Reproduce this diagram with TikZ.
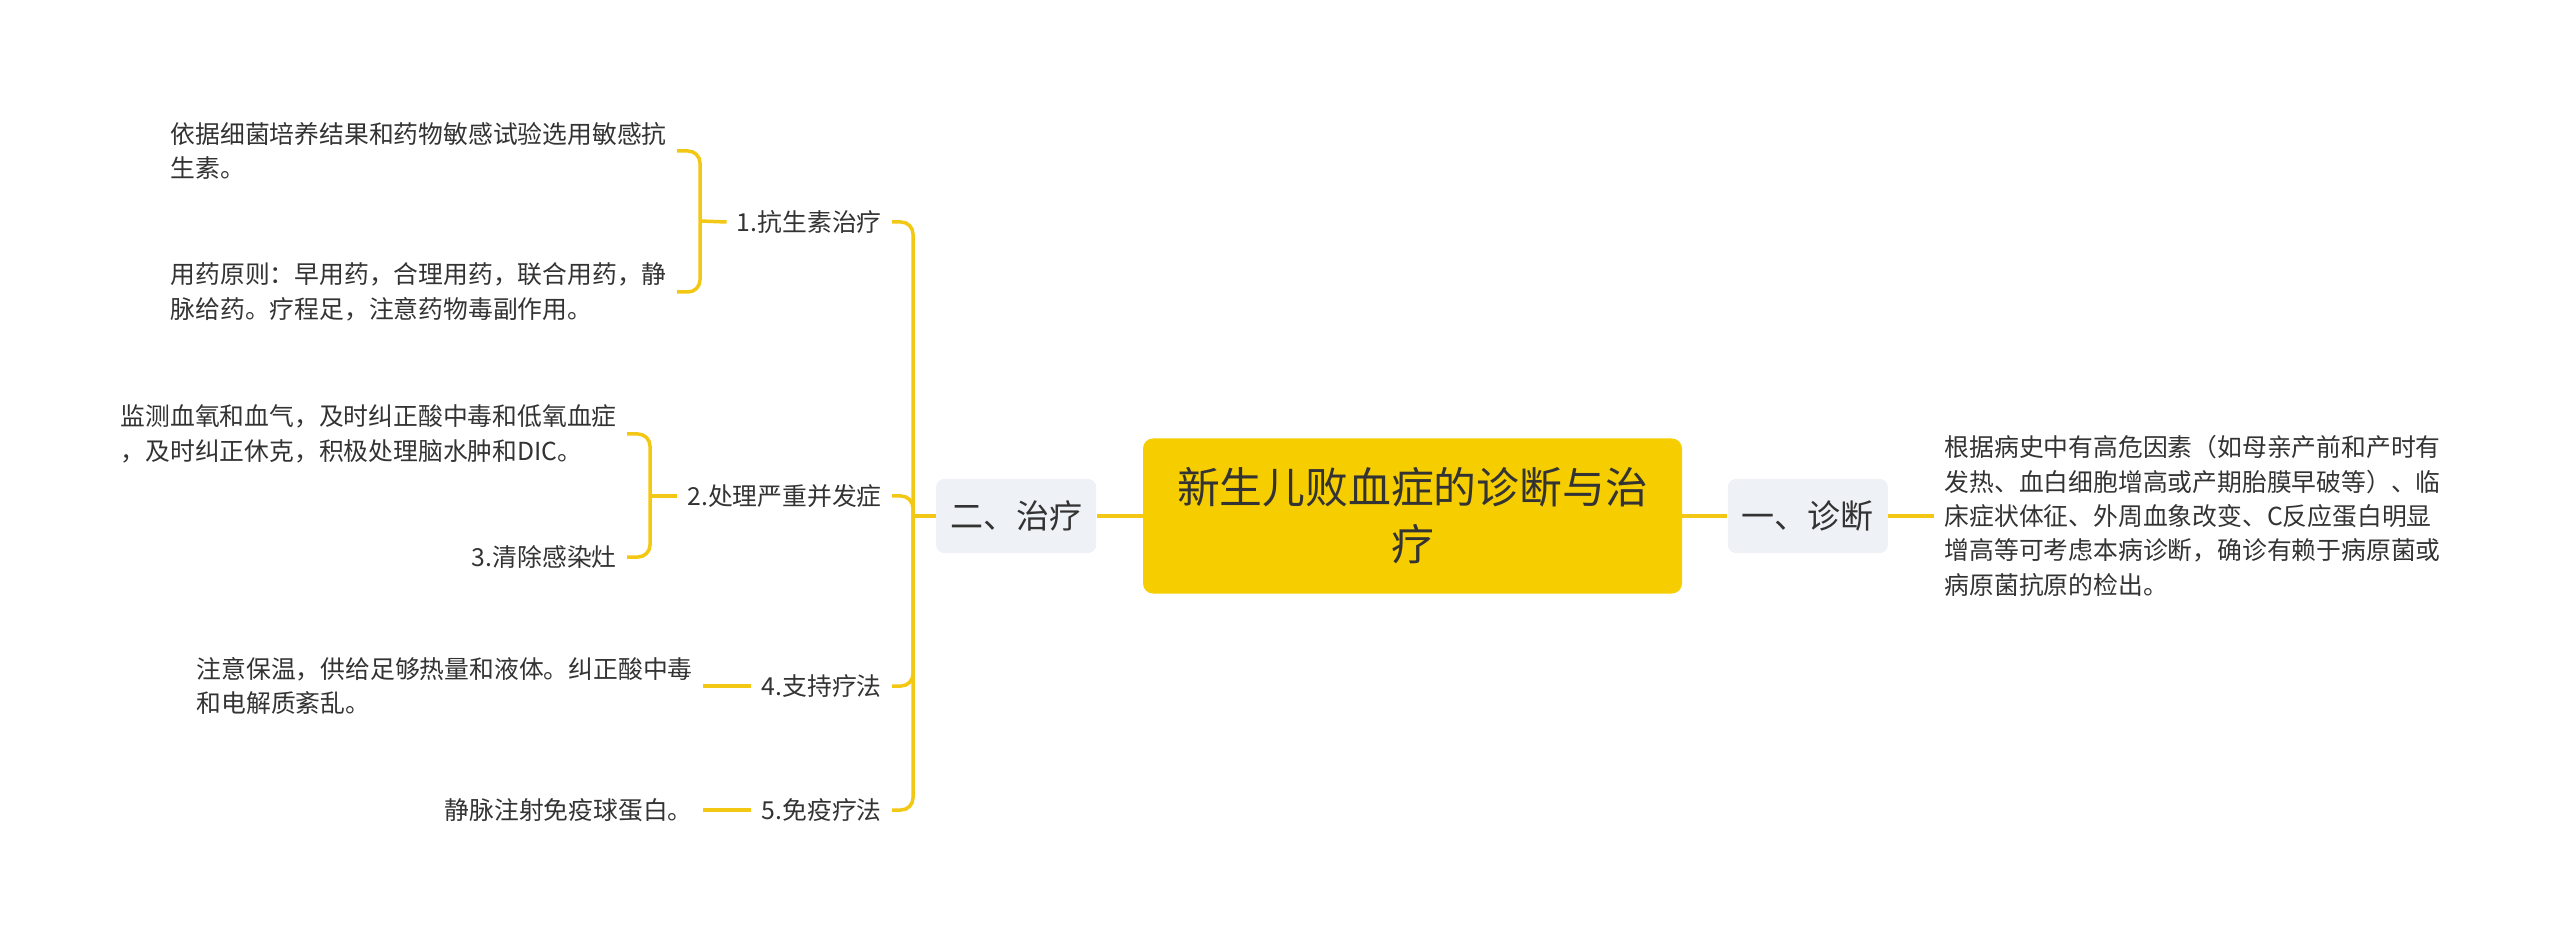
\documentclass[tikz,border=0pt]{standalone}
\usepackage{fontspec}
\setmainfont{Noto Sans CJK SC}
\usetikzlibrary{positioning}
\definecolor{mmgold}{HTML}{F6CE00}
\definecolor{mmline}{HTML}{F3C814}
\definecolor{mmgrey}{HTML}{EEF1F5}
\definecolor{mmtext}{HTML}{333333}

\begin{document}
\begin{tikzpicture}[x=0.5pt,y=-0.5pt,
  node distance=23pt,
  root/.style={fill=mmgold,rounded corners=5pt,minimum width=269.5pt,minimum height=77.5pt,
    align=center,text=mmtext,font=\fontsize{21.4}{28.5}\selectfont},
  branch/.style={fill=mmgrey,rounded corners=4pt,minimum width=80pt,minimum height=37pt,
    text=mmtext,font=\fontsize{16.5}{20}\selectfont},
  leaf/.style={inner xsep=5pt,inner ysep=0pt,align=left,text=mmtext,
    font=\fontsize{12.4}{17.2}\selectfont},
  link/.style={mmline,line width=1.75pt,rounded corners=6pt}]
\useasboundingbox (0,0) rectangle (2560,946);
\node[root] (root) at (1412.5,516) {新生儿败血症的诊断与治\\疗};
\node[branch,left=of root] (treat) {二、治疗};
\node[branch,right=22.5pt of root] (diag) {一、诊断};
\node[leaf,right=of diag] (dinfo) {根据病史中有高危因素（如母亲产前和产时有\\发热、血白细胞增高或产期胎膜早破等）、临\\床症状体征、外周血象改变、C反应蛋白明显\\增高等可考虑本病诊断，确诊有赖于病原菌或\\病原菌抗原的检出。};
\coordinate (tj) at (913,516);
\node[leaf,anchor=east] (abx) at (892,222) {1.抗生素治疗};
\node[leaf,anchor=east] (cmp) at (892,496) {2.处理严重并发症};
\node[leaf,anchor=east] (sup) at (892,686) {4.支持疗法};
\node[leaf,anchor=east] (imm) at (892,810) {5.免疫疗法};
\coordinate (abxj) at (700,221);
\node[leaf,anchor=east] (abx1) at (677,151) {依据细菌培养结果和药物敏感试验选用敏感抗\\生素。};
\node[leaf,anchor=east] (abx2) at (677,292) {用药原则：早用药，合理用药，联合用药，静\\脉给药。疗程足，注意药物毒副作用。};
\coordinate (cmpj) at (650,496);
\node[leaf,anchor=east] (cmp1) at (627,434) {监测血氧和血气，及时纠正酸中毒和低氧血症\\，及时纠正休克，积极处理脑水肿和DIC。};
\node[leaf,anchor=east] (cmp2) at (627,557) {3.清除感染灶};
\node[leaf,anchor=east] (sup1) at (703,686) {注意保温，供给足够热量和液体。纠正酸中毒\\和电解质紊乱。};
\node[leaf,anchor=east] (imm1) at (703,810) {静脉注射免疫球蛋白。};
\draw[link] (root) -- (treat);
\draw[link] (root) -- (diag);
\draw[link] (diag) -- (dinfo);
\draw[link] (treat.west) -- (tj);
\foreach \c in {abx,cmp,sup,imm}
  \draw[link] (tj) |- (\c.east);
\draw[link] (abx.west) -- (abxj);
\foreach \c in {abx1,abx2}
  \draw[link] (abxj) |- (\c.east);
\draw[link] (cmp.west) -- (cmpj);
\foreach \c in {cmp1,cmp2}
  \draw[link] (cmpj) |- (\c.east);
\draw[link] (sup.west) -- (sup1.east);
\draw[link] (imm.west) -- (imm1.east);
\end{tikzpicture}
\end{document}
